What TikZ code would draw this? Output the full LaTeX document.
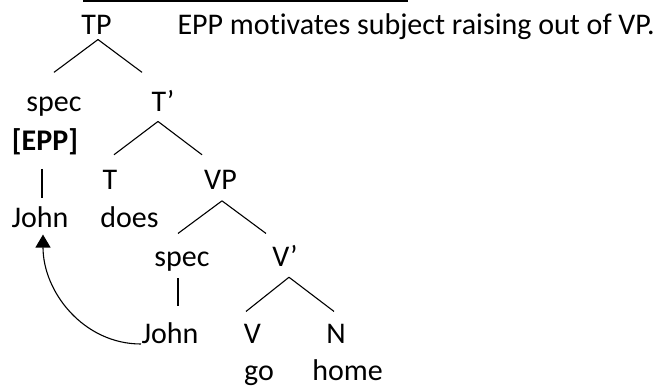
\documentclass[tikz,border=0pt]{standalone}
\usepackage{fontspec}
\setmainfont{Carlito}[Ligatures=NoCommon]
\usetikzlibrary{arrows.meta}

\begin{document}
\begin{tikzpicture}[x=1pt, y=1pt, line width=1.1pt,
  word/.style={inner sep=0pt, text height=19pt, text depth=6pt, anchor=base,
               font=\fontsize{30}{36}\selectfont}]
  \useasboundingbox (0,0) rectangle (659,-387);
  % cut-off underline at the top
  \draw[line width=1.3pt] (83,-1) -- (408,-1);
  % nodes of the tree
  \node[word] (tp) at (96.5,-34.5) {TP};
  \node[word, anchor=base west] (note) at (177,-34.5) {EPP motivates subject raising out of VP.};
  \node[word] (specT) at (54,-111.9) {spec};
  \node[word] (tbar) at (163,-111.9) {T’};
  \node[word] (epp) at (45,-151) {\bfseries [EPP]};
  \node[word] (t) at (110,-189.3) {T};
  \node[word] (vp) at (220.5,-189.3) {VP};
  \node[word] (johnT) at (40,-228) {John};
  \node[word] (does) at (129.5,-228) {does};
  \node[word] (specV) at (182,-266.7) {spec};
  \node[word] (vbar) at (285,-266.7) {V’};
  \node[word] (johnV) at (170,-344) {John};
  \node[word] (v) at (252.5,-344) {V};
  \node[word] (n) at (336,-344) {N};
  \node[word] (go) at (259,-381) {go};
  \node[word] (home) at (347.5,-381) {home};
  % branches
  \draw ([xshift=1.5pt,yshift=1.5pt]tp.south) -- ([yshift=20pt]specT.north);
  \draw ([xshift=1.5pt,yshift=1.5pt]tp.south) -- ([xshift=-21pt,yshift=20pt]tbar.north);
  \draw ([xshift=-5pt,yshift=-3pt]tbar.south) -- ([xshift=4pt,yshift=15pt]t.north);
  \draw ([xshift=-5pt,yshift=-3pt]tbar.south) -- ([xshift=-18.5pt,yshift=15pt]vp.north);
  \draw ([xshift=1.5pt,yshift=-5pt]vp.south) -- ([xshift=-4pt,yshift=13.7pt]specV.north);
  \draw ([xshift=1.5pt,yshift=-5pt]vp.south) -- ([xshift=-19pt,yshift=13.7pt]vbar.north);
  \draw ([xshift=4pt,yshift=-4pt]vbar.south) -- ([xshift=-6.5pt,yshift=13pt]v.north);
  \draw ([xshift=4pt,yshift=-4pt]vbar.south) -- ([xshift=-2pt,yshift=13pt]n.north);
  \draw ([xshift=-3pt,yshift=-11.4pt]epp.south) -- ([xshift=2pt,yshift=10pt]johnT.north);
  \draw ([xshift=-4pt,yshift=-5pt]specV.south) -- ([xshift=8pt,yshift=18pt]johnV.north);
  % movement arrow
  \draw[-{Triangle[length=13pt,width=15pt]}] (johnV.base west) to[out=180, in=-90] ([xshift=3pt]johnT.south);
\end{tikzpicture}
\end{document}
